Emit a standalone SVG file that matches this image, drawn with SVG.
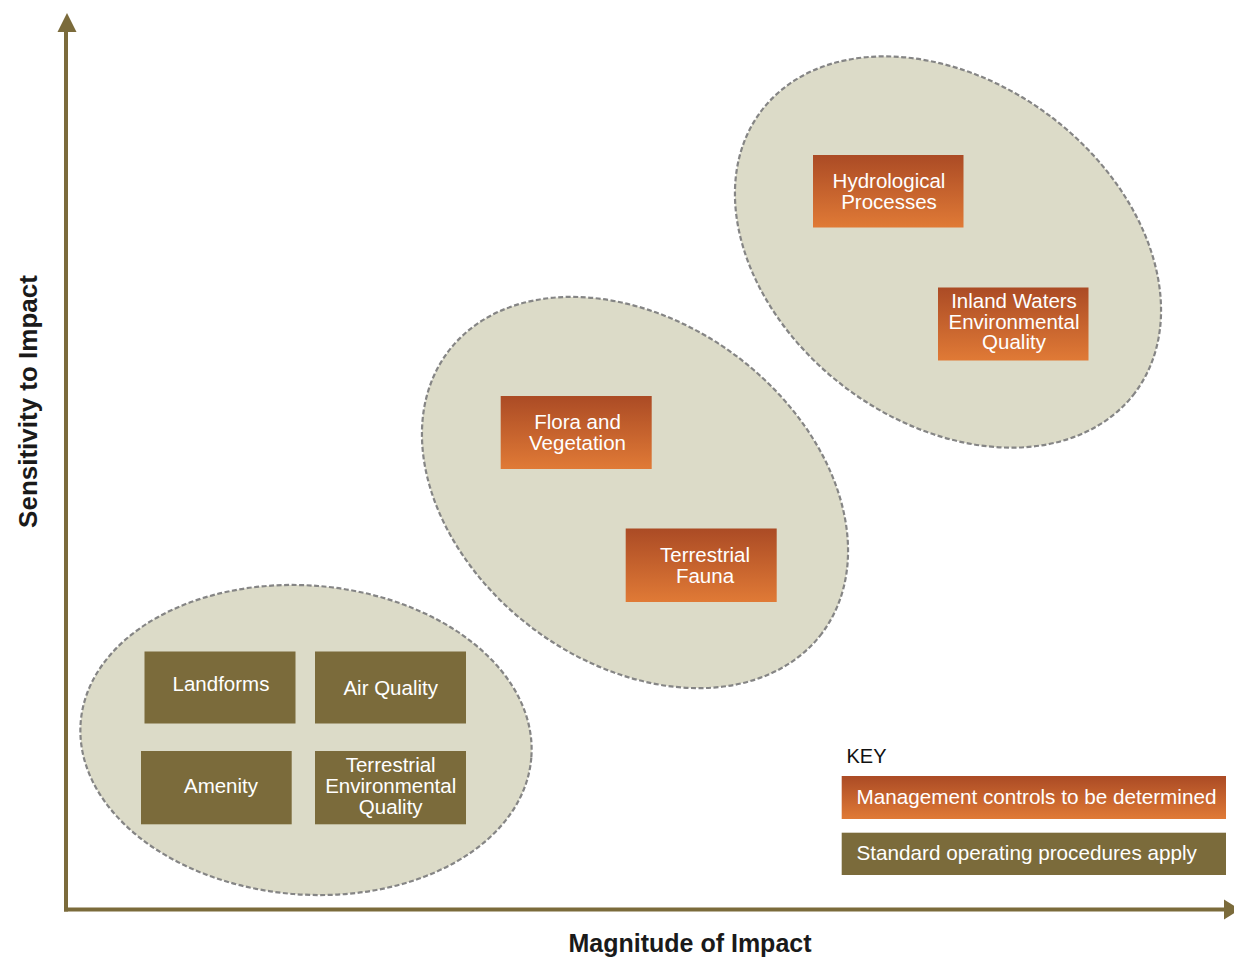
<svg xmlns="http://www.w3.org/2000/svg" width="1234" height="958" viewBox="0 0 1234 958">
<defs>
<linearGradient id="og" x1="0" y1="0" x2="0" y2="1">
<stop offset="0" stop-color="#ab4b25"/>
<stop offset="1" stop-color="#e07a36"/>
</linearGradient>
<style>
.ell{fill:#dcdbc8;stroke:#858585;stroke-width:2.2;stroke-dasharray:5 2.5}
.or{fill:url(#og)}
.ol{fill:#7b6b3b}
.t{font-family:"Liberation Sans",Arial,sans-serif;font-size:20.5px;fill:#ffffff;text-anchor:middle}
.tl{font-family:"Liberation Sans",Arial,sans-serif;font-size:20.7px;fill:#ffffff}
.ax{font-family:"Liberation Sans",Arial,sans-serif;font-size:25px;font-weight:bold;fill:#1a1a1a;text-anchor:middle}
.axis{stroke:#7b6b3b;stroke-width:4;fill:none}
</style>
</defs>
<rect width="1234" height="958" fill="#ffffff"/>
<g id="groups">
<ellipse id="group-low" class="ell" cx="306" cy="740" rx="226" ry="154.5" transform="rotate(4.5 306 740)"/>
<ellipse id="group-mid" class="ell" cx="635" cy="492.5" rx="234" ry="170" transform="rotate(37 635 492.5)"/>
<ellipse id="group-high" class="ell" cx="948" cy="252" rx="234" ry="170" transform="rotate(37 948 252)"/>
</g>
<g id="connectors">
<line class="axis" x1="66" y1="30" x2="66" y2="911.5"/>
<polygon points="67,13 57.5,32 76.5,32" fill="#7b6b3b"/>
<line class="axis" x1="64" y1="909.5" x2="1226" y2="909.5"/>
<polygon points="1224,899.5 1240,909.5 1224,919.5" fill="#7b6b3b"/>
</g>
<g id="node-hydro">
<rect class="or" x="813" y="155" width="150.5" height="72.5"/>
<text class="t" x="889" y="188.3">Hydrological</text>
<text class="t" x="889" y="209">Processes</text>
</g>
<g id="node-inland">
<rect class="or" x="938" y="287.5" width="150.5" height="73"/>
<text class="t" x="1014" y="307.5">Inland Waters</text>
<text class="t" x="1014" y="328.5">Environmental</text>
<text class="t" x="1014" y="349">Quality</text>
</g>
<g id="node-flora">
<rect class="or" x="500.7" y="396" width="151" height="73"/>
<text class="t" x="577.5" y="429">Flora and</text>
<text class="t" x="577.5" y="449.5">Vegetation</text>
</g>
<g id="node-fauna">
<rect class="or" x="625.7" y="528.5" width="151" height="73.5"/>
<text class="t" x="705" y="562">Terrestrial</text>
<text class="t" x="705" y="582.5">Fauna</text>
</g>
<g id="node-landforms">
<rect class="ol" x="144.5" y="651.5" width="151" height="72"/>
<text class="t" x="221" y="690.7">Landforms</text>
</g>
<g id="node-air">
<rect class="ol" x="315" y="651.5" width="151" height="72"/>
<text class="t" x="390.7" y="695">Air Quality</text>
</g>
<g id="node-amenity">
<rect class="ol" x="141" y="751" width="150.7" height="73.3"/>
<text class="t" x="221" y="793.3">Amenity</text>
</g>
<g id="node-teq">
<rect class="ol" x="315" y="751" width="151" height="73.3"/>
<text class="t" x="390.7" y="772">Terrestrial</text>
<text class="t" x="390.7" y="792.5">Environmental</text>
<text class="t" x="390.7" y="813.5">Quality</text>
</g>
<g id="key">
<text x="846.5" y="762.7" font-family="Liberation Sans, Arial, sans-serif" font-size="20px" fill="#111111">KEY</text>
<rect class="or" x="841.7" y="776" width="384.3" height="43"/>
<text class="tl" x="856.5" y="804">Management controls to be determined</text>
<rect class="ol" x="841.7" y="832.7" width="384.3" height="42.3"/>
<text class="tl" x="856.5" y="860">Standard operating procedures apply</text>
</g>
<g id="axis-labels">
<text class="ax" x="690" y="951.7">Magnitude of Impact</text>
<text class="ax" style="font-size:26px" transform="translate(36.7 401.5) rotate(-90)" x="0" y="0">Sensitivity to Impact</text>
</g>
</svg>
